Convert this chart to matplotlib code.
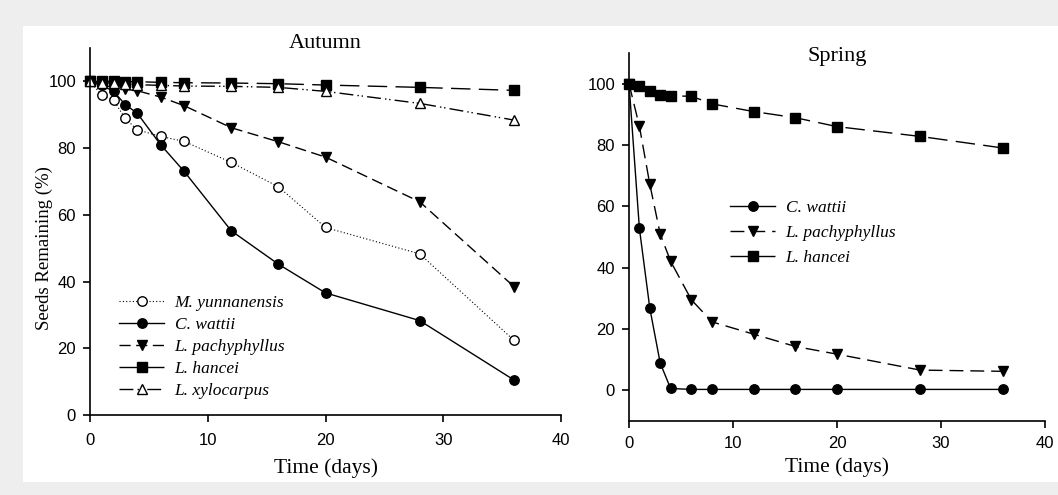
import matplotlib
matplotlib.use("Agg")
import matplotlib.pyplot as plt
from matplotlib.patches import Rectangle

# sampling days
days = [0, 1, 2, 3, 4, 6, 8, 12, 16, 20, 28, 36]

# Autumn, seeds remaining (%)
aut_yunnanensis = [100, 95.8, 94.3, 88.9, 85.5, 83.5, 82.0, 75.7, 68.4, 56.2, 48.3, 22.4]
aut_wattii = [100, 98.8, 97.0, 93.0, 90.5, 81.0, 73.0, 55.2, 45.2, 36.6, 28.3, 10.5]
aut_pachyphyllus = [100, 98.8, 98.2, 97.6, 97.2, 95.3, 92.7, 86.1, 81.9, 77.3, 63.9, 38.5]
aut_hancei = [100, 100, 100, 99.9, 99.9, 99.7, 99.6, 99.5, 99.3, 98.9, 98.2, 97.3]
aut_xylocarpus = [100, 99.6, 99.4, 99.2, 99.0, 98.8, 98.6, 98.5, 98.2, 97.0, 93.4, 88.4]

# Spring, seeds remaining (%)
spr_wattii = [100, 52.8, 26.8, 8.9, 0.6, 0.3, 0.3, 0.3, 0.3, 0.3, 0.3, 0.3]
spr_pachyphyllus = [100, 86.1, 67.2, 51.0, 42.1, 29.5, 22.3, 18.3, 14.3, 11.8, 6.6, 6.2]
spr_hancei = [100, 99.4, 97.6, 96.4, 96.0, 95.9, 93.4, 90.9, 88.9, 86.0, 82.8, 79.0]

SERIF = "Liberation Serif"
plt.rcParams["font.family"] = ["Liberation Sans", "DejaVu Sans"]

fig = plt.figure(figsize=(10.58, 4.95), dpi=100)
fig.patch.set_facecolor("#eeeeee")
# white panel behind the two plots
fig.patches.append(Rectangle((23 / 1058, 13 / 495), 1 - 23 / 1058, 456 / 495,
                             transform=fig.transFigure, facecolor="white",
                             edgecolor="none", zorder=-10))

ax1 = fig.add_axes([90 / 1058, 80 / 495, 471 / 1058, 367 / 495])
ax2 = fig.add_axes([629 / 1058, 74 / 495, 416 / 1058, 368 / 495])

def style_axes(ax, xpad):
    ax.set_facecolor("none")
    for s in ["top", "right"]:
        ax.spines[s].set_visible(False)
    for s in ["left", "bottom"]:
        ax.spines[s].set_linewidth(1.2)
    ax.tick_params(direction="out", length=5, width=1.2, labelsize=12)
    ax.tick_params(axis="x", pad=xpad)
    ax.tick_params(axis="y", pad=5)
    ax.set_xlim(0, 40)
    ax.set_xticks([0, 10, 20, 30, 40])
    ax.set_yticks([0, 20, 40, 60, 80, 100])

mk = dict(markersize=6.8, color="black", clip_on=False, markeredgewidth=1.0)
leg_font = dict(family=SERIF, style="italic", size=12.5)

ax1.plot(days, aut_yunnanensis, linestyle=(0, (1, 2)), lw=0.8, marker="o",
         markerfacecolor="white", label="M. yunnanensis", **mk)
ax1.plot(days, aut_wattii, linestyle="-", lw=1.0, marker="o",
         label="C. wattii", **mk)
ax1.plot(days, aut_pachyphyllus, linestyle=(0, (8, 4)), lw=1.0, marker="v",
         label="L. pachyphyllus", **mk)
ax1.plot(days, aut_hancei, linestyle=(0, (14, 6)), lw=1.0, marker="s",
         label="L. hancei", **mk)
ax1.plot(days, aut_xylocarpus, linestyle=(0, (10, 3, 1, 2, 1, 3)), lw=1.0, marker="^",
         markerfacecolor="white", label="L. xylocarpus", **mk)
ax1.set_ylim(0, 110)
style_axes(ax1, 8)
ax1.set_ylabel("Seeds Remaining (%)", fontfamily=SERIF, fontsize=13.5)
ax1.yaxis.set_label_coords(-0.079, 0.455)
ax1.set_xlabel("Time (days)", fontfamily=SERIF, fontsize=15.5, labelpad=7)
ax1.text(0.5, 1.012, "Autumn", transform=ax1.transAxes, ha="center", va="center",
         fontfamily=SERIF, fontsize=16)
ax1.legend(loc="upper left", bbox_to_anchor=(0.047, 0.345), frameon=False,
           prop=leg_font, handlelength=2.6, labelspacing=0.33,
           handletextpad=0.6, borderaxespad=0)

ax2.plot(days, spr_wattii, linestyle="-", lw=1.0, marker="o",
         label="C. wattii", **mk)
ax2.plot(days, spr_pachyphyllus, linestyle=(0, (10, 5)), lw=1.0, marker="v",
         label="L. pachyphyllus", **mk)
ax2.plot(days, spr_hancei, linestyle=(0, (14, 6)), lw=1.0, marker="s",
         label="L. hancei", **mk)
ax2.set_ylim(-10, 110)
style_axes(ax2, 6)
ax2.set_xlabel("Time (days)", fontfamily=SERIF, fontsize=15.5, labelpad=4)
ax2.text(0.5, 0.99, "Spring", transform=ax2.transAxes, ha="center", va="center",
         fontfamily=SERIF, fontsize=16)
ax2.legend(loc="upper left", bbox_to_anchor=(0.226, 0.62), frameon=False,
           prop=leg_font, handlelength=2.6, labelspacing=0.5,
           handletextpad=0.6, borderaxespad=0)

fig.savefig("out.png", dpi=100, facecolor=fig.get_facecolor())
